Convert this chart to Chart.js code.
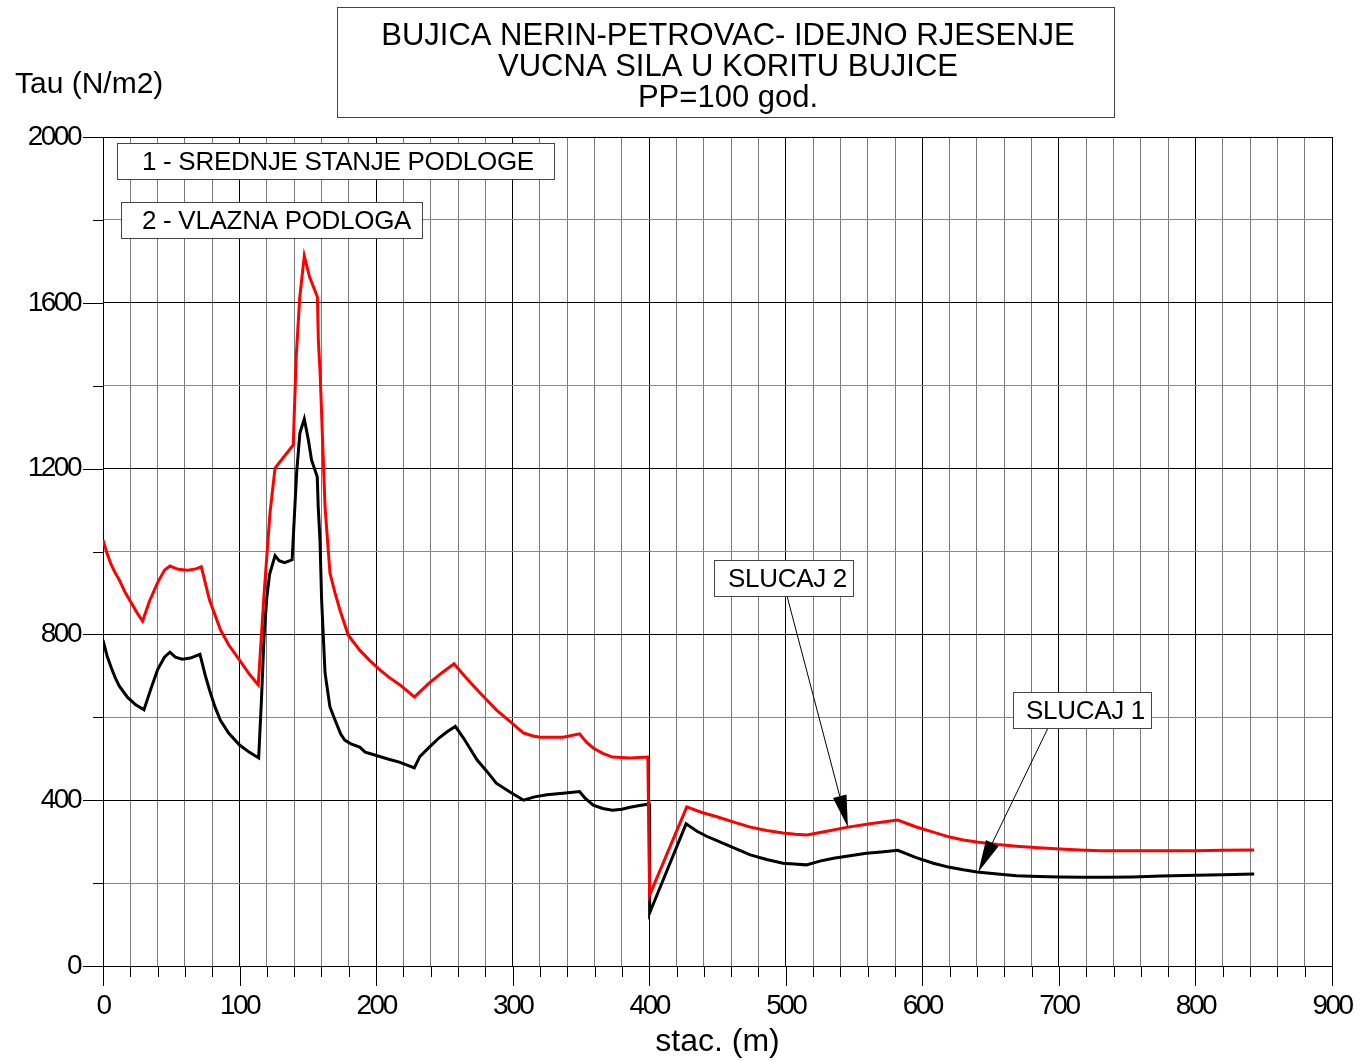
<!DOCTYPE html>
<html>
<head>
<meta charset="utf-8">
<title>Bujica Nerin-Petrovac - vucna sila</title>
<script src="https://cdn.jsdelivr.net/npm/chart.js@4.4.1/dist/chart.umd.min.js"></script>
<style>
  body { margin: 0; background: #fff; }
  #wrap { width: 1363px; height: 1061px; }
</style>
</head>
<body>
<div id="wrap"><canvas id="tauChart" width="1363" height="1061"></canvas></div>
<script>
// SLUCAJ 1 - srednje stanje podloge (black)
const stac1 = [0, 3, 6, 9, 12, 18, 24, 30, 35, 40, 45, 49, 53, 58, 64, 71, 75, 78, 82, 86, 92, 100, 107, 114,
  116, 118, 120, 122, 126, 129, 133, 138.5, 141.8, 144.2, 147.4, 150.4, 152.7, 156.9, 157.6, 158.9, 160.1, 162.6, 166.2,
  170, 174, 177, 182, 188, 192, 199, 208, 217, 228, 232, 239, 246, 252, 258, 264, 274, 281, 288, 298, 308,
  316, 325, 337, 349, 353, 359, 366, 373, 380, 386, 393, 400, 400.3, 427, 435, 442, 450, 462, 474, 486, 498,
  506, 515, 525, 535, 547, 559, 570, 582, 595, 608, 620, 630, 640, 655, 669, 685, 701, 718, 735, 754, 775, 800, 820, 843];
const tau1 = [786, 748, 720, 695, 675, 648, 630, 618, 668, 715, 745, 757, 745, 740, 743, 752, 700, 666, 625, 593, 562, 533, 516, 502,
  640, 800, 890, 945, 990, 978, 973, 980, 1190, 1286, 1320, 1269, 1221, 1180, 1108, 1028, 883, 707, 625,
  593, 560, 545, 535, 528, 516, 509, 500, 492, 478, 505, 528, 550, 565, 578, 550, 497, 470, 441, 420, 400,
  408, 413, 417, 421, 405, 388, 380, 376, 378, 383, 387, 391, 128, 343, 325, 313, 302, 285, 268, 257, 248,
  246, 244, 253, 260, 266, 272, 275, 279, 262, 248, 238, 232, 227, 222, 218, 216, 215, 214, 214, 215, 217, 219, 220, 222];

// SLUCAJ 2 - vlazna podloga (red)
const stac2 = [0, 3, 6, 9, 12, 16, 20, 25, 29, 34, 40, 45, 49, 55, 62, 68, 72, 78, 86, 92, 100, 107, 113.7,
  118, 122.3, 126, 139.3, 141.5, 144, 147.4, 151.3, 157, 157.7, 159, 160.8, 162.6, 166.2, 169.9, 173.5, 179.6,
  188, 195, 203, 210, 217.5, 228, 239, 248, 257, 266, 276, 288, 298, 308, 315, 320, 337, 349, 354, 359, 366,
  373, 386, 399, 400.3, 427.5, 438, 449.6, 462, 474, 486, 498, 507, 515.5, 530, 545.5, 563, 582, 595, 608,
  620, 630, 640, 655, 669, 685, 701, 715, 730, 759, 800, 820, 843];
const tau2 = [1028, 995, 968, 948, 931, 903, 880, 852, 832, 880, 925, 955, 965, 957, 955, 958, 963, 883, 811, 775, 738, 705, 678,
  900, 1093, 1201, 1257, 1470, 1610, 1713, 1662, 1614, 1510, 1431, 1269, 1107, 948, 900, 859, 798,
  762, 738, 714, 695, 678, 649, 683, 707, 729, 695, 659, 618, 590, 562, 555, 552, 552, 560, 540, 526, 513,
  504, 502, 504, 171, 384, 371, 360, 347, 335, 327, 321, 318, 316, 325, 335, 344, 352, 336, 323,
  311, 304, 299, 293, 289, 285, 282, 280, 278, 278, 278, 279, 280];

const xLabels = [0, 100, 200, 300, 400, 500, 600, 700, 800, 900];
const yLabels = [0, 400, 800, 1200, 1600, 2000];

const titleLines = ['BUJICA NERIN-PETROVAC- IDEJNO RJESENJE', 'VUCNA SILA U KORITU BUJICE', 'PP=100 god.'];
const legendTexts = ['1 - SREDNJE STANJE PODLOGE', '2 - VLAZNA PODLOGA'];
const calloutTexts = ['SLUCAJ 2', 'SLUCAJ 1'];
const calloutTips = [[545.5, 335], [641, 227]];   // stac, tau where the arrows point

const toPts = (xs, ys) => xs.map((x, i) => ({ x: x, y: ys[i] }));

// boxes: x, y, w, h, text x, text baseline
const legendBoxes = [[117, 143, 437, 36, 142, 170], [121, 202, 301, 36, 142, 229]];
const calloutBoxes = [[714, 560, 139, 36, 728, 587], [1013, 692, 138, 36, 1026, 719]];
const calloutStarts = [[787, 596], [1048, 728]];

function drawBox(ctx, b, text) {
  ctx.fillStyle = '#fff';
  ctx.fillRect(b[0], b[1], b[2], b[3]);
  ctx.strokeStyle = '#444';
  ctx.lineWidth = 1;
  ctx.strokeRect(b[0] + 0.5, b[1] + 0.5, b[2], b[3]);
  ctx.fillStyle = '#000';
  ctx.textAlign = 'left';
  ctx.textBaseline = 'alphabetic';
  ctx.fillText(text, b[4], b[5]);
}

function drawArrow(ctx, sx, sy, tx, ty) {
  const ang = Math.atan2(ty - sy, tx - sx);
  const len = 32, hw = 7;
  const bx = tx - Math.cos(ang) * len, by = ty - Math.sin(ang) * len;
  ctx.strokeStyle = '#000';
  ctx.lineWidth = 1;
  ctx.beginPath();
  ctx.moveTo(sx, sy);
  ctx.lineTo(bx, by);
  ctx.stroke();
  ctx.fillStyle = '#000';
  ctx.beginPath();
  ctx.moveTo(tx, ty);
  ctx.lineTo(bx - Math.sin(ang) * hw, by + Math.cos(ang) * hw);
  ctx.lineTo(bx + Math.sin(ang) * hw, by - Math.cos(ang) * hw);
  ctx.closePath();
  ctx.fill();
}

const decorPlugin = {
  id: 'decor',
  afterLayout(chart) {
    // squeeze tick labels a bit, like the original plot font
    Object.values(chart.scales).forEach(s => {
      if (s._squeezed) return;
      const orig = s.drawLabels;
      s.drawLabels = function (area) {
        const c = this.ctx;
        c.save();
        c.letterSpacing = '-2.5px';
        orig.call(this, area);
        c.restore();
      };
      s._squeezed = true;
    });
  },
  afterDraw(chart) {
    const ctx = chart.ctx;
    const xs = chart.scales.x, ys = chart.scales.y;
    const area = chart.chartArea;
    ctx.save();

    // tick marks outside the plot
    ctx.strokeStyle = '#000';
    ctx.lineWidth = 1;
    ctx.beginPath();
    xs.ticks.forEach(t => {
      const px = Math.round(xs.getPixelForValue(t.value)) + 0.5;
      ctx.moveTo(px, area.bottom);
      ctx.lineTo(px, area.bottom + (t.value % 100 === 0 ? 20 : 11));
    });
    ys.ticks.forEach(t => {
      const py = Math.round(ys.getPixelForValue(t.value)) + 0.5;
      ctx.moveTo(area.left, py);
      ctx.lineTo(area.left - (t.value % 400 === 0 ? 20 : 10), py);
    });
    ctx.stroke();

    // title box
    ctx.fillStyle = '#fff';
    ctx.fillRect(337, 7, 777, 110);
    ctx.strokeStyle = '#444';
    ctx.strokeRect(337.5, 7.5, 777, 110);
    ctx.fillStyle = '#000';
    ctx.font = '31px "Liberation Sans", Arial, sans-serif';
    ctx.letterSpacing = '0px';
    ctx.textAlign = 'center';
    ctx.textBaseline = 'alphabetic';
    titleLines.forEach((line, i) => ctx.fillText(line, 728, 45 + i * 31));

    // y axis name
    ctx.textAlign = 'left';
    ctx.font = '30px "Liberation Sans", Arial, sans-serif';
    ctx.fillText('Tau (N/m2)', 15, 93);

    // legend and callouts
    ctx.font = '26px "Liberation Sans", Arial, sans-serif';
    ctx.letterSpacing = '-0.3px';
    legendTexts.forEach((t, i) => drawBox(ctx, legendBoxes[i], t));
    calloutTexts.forEach((t, i) => {
      const tip = calloutTips[i];
      drawArrow(ctx, calloutStarts[i][0], calloutStarts[i][1],
        xs.getPixelForValue(tip[0]), ys.getPixelForValue(tip[1]));
      drawBox(ctx, calloutBoxes[i], t);
    });
    ctx.restore();
  }
};

new Chart(document.getElementById('tauChart'), {
  type: 'line',
  data: {
    datasets: [
      { label: 'SLUCAJ 2', data: toPts(stac2, tau2), borderColor: '#ff0000', borderWidth: 3, pointRadius: 0, tension: 0 },
      { label: 'SLUCAJ 1', data: toPts(stac1, tau1), borderColor: '#000000', borderWidth: 3, pointRadius: 0, tension: 0 }
    ]
  },
  options: {
    responsive: false,
    animation: false,
    layout: { padding: { top: 137, right: 31, left: 0, bottom: 0 } },
    plugins: { legend: { display: false }, tooltip: { enabled: false } },
    scales: {
      x: {
        type: 'linear', min: 0, max: 900,
        afterFit: s => { s.height = 95; s.paddingLeft = 0; s.paddingRight = 0; },
        ticks: {
          stepSize: 20, autoSkip: false, maxRotation: 0, padding: 23, color: '#000',
          font: { family: '"Liberation Sans", Arial, sans-serif', size: 28 },
          callback: v => xLabels.includes(v) ? String(v) : ''
        },
        grid: {
          drawTicks: false, lineWidth: 1,
          color: c => (c.tick && c.tick.value % 100 === 0) ? '#000' : '#7a7a7a'
        },
        border: { color: '#000' },
        title: {
          display: true, text: 'stac. (m)', color: '#000',
          font: { family: '"Liberation Sans", Arial, sans-serif', size: 32 },
          padding: { top: 0, bottom: 0 }
        }
      },
      y: {
        min: 0, max: 2000,
        afterFit: s => { s.width = 103; s.paddingTop = 0; s.paddingBottom = 0; },
        ticks: {
          stepSize: 200, autoSkip: false, padding: 23, color: '#000',
          font: { family: '"Liberation Sans", Arial, sans-serif', size: 28 },
          callback: v => yLabels.includes(v) ? String(v) : ''
        },
        grid: {
          drawTicks: false, lineWidth: 1,
          color: c => (c.tick && c.tick.value % 400 === 0) ? '#000' : '#8a8a8a'
        },
        border: { color: '#000' }
      }
    }
  },
  plugins: [decorPlugin]
});
</script>
</body>
</html>
